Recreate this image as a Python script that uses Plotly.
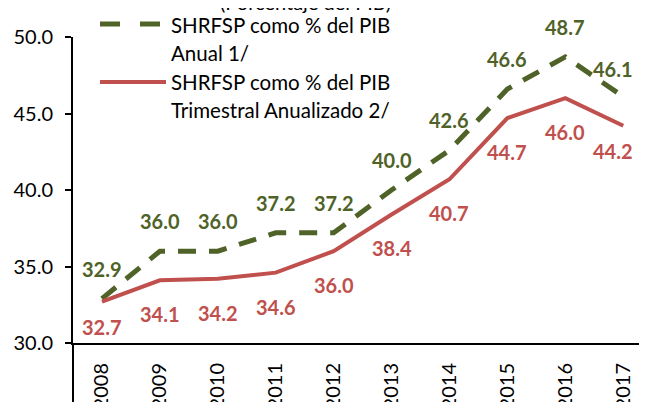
import plotly.graph_objects as go

# Data
years = ["2008", "2009", "2010", "2011", "2012", "2013", "2014", "2015", "2016", "2017"]
anual = [32.9, 36.0, 36.0, 37.2, 37.2, 40.0, 42.6, 46.6, 48.7, 46.1]
trimestral = [32.7, 34.1, 34.2, 34.6, 36.0, 38.4, 40.7, 44.7, 46.0, 44.2]
y_ticks = [30, 35, 40, 45, 50]

GREEN = "#4F6228"
RED = "#C0504D"
FONT = "Lato"

fig = go.Figure()

fig.add_trace(go.Scatter(
    x=years, y=anual, mode="lines", name="SHRFSP como % del PIB Anual 1/",
    line=dict(color=GREEN, width=5, dash="18px,13px"),
    showlegend=False
))
fig.add_trace(go.Scatter(
    x=years, y=trimestral, mode="lines", name="SHRFSP como % del PIB Trimestral Anualizado 2/",
    line=dict(color=RED, width=4),
    showlegend=False
))

# data labels (x given as category index)
annotations = []
last = len(years) - 1
for i, v in enumerate(anual):
    annotations.append(dict(
        x=i, y=v, text=f"{v:.1f}", showarrow=False,
        yshift=30 if i < last else 28, xshift=-10 if i == last else 0,
        font=dict(family=FONT, size=20, color=GREEN, weight="bold")
    ))
for i, v in enumerate(trimestral):
    edge = i == 0 or i == last
    annotations.append(dict(
        x=i, y=v, text=f"{v:.1f}", showarrow=False,
        yshift=-25 if edge else -34, xshift=-10 if i == last else 0,
        font=dict(family=FONT, size=20, color=RED, weight="bold")
    ))

# the page body has an 8px margin, so the figure is laid out 8px lower/right
OFF = 8
L, T, W, H = 73 - OFF, 37 - OFF, 574, 306

def px(x):
    return (x - OFF - L) / W

def py(y):
    return (T + H - (y - OFF)) / H

# manual legend
legend_lines = [
    ("SHRFSP como % del PIB", 25), ("Anual 1/", 53),
    ("SHRFSP como % del PIB", 82), ("Trimestral Anualizado 2/", 110),
]
for txt, yy in legend_lines:
    annotations.append(dict(
        xref="paper", yref="paper", x=px(169), y=py(yy), text=txt,
        xanchor="left", yanchor="middle", showarrow=False,
        font=dict(family=FONT, size=20.5, color="black")
    ))

# cut-off title at the very top
annotations.append(dict(
    xref="paper", yref="paper", x=px(305), y=py(2), text="(Porcentaje del PIB)",
    xanchor="center", yanchor="middle", showarrow=False,
    font=dict(family=FONT, size=20, color="black")
))

shapes = [
    dict(type="line", xref="paper", yref="paper", x0=px(100), x1=px(164), y0=py(24), y1=py(24),
         line=dict(color=GREEN, width=5, dash="20px,20px")),
    dict(type="line", xref="paper", yref="paper", x0=px(100), x1=px(166), y0=py(82), y1=py(82),
         line=dict(color=RED, width=4)),
    # axis extension below the category axis
    dict(type="line", xref="paper", yref="paper", x0=0, x1=0, y0=0, y1=-0.3,
         line=dict(color="black", width=2)),
]

fig.update_layout(
    width=647, height=402,
    margin=dict(l=L, r=647 - L - W, t=T, b=402 - T - H),
    plot_bgcolor="white", paper_bgcolor="white",
    annotations=annotations, shapes=shapes,
    font=dict(family=FONT, size=20, color="black"),
)

fig.update_xaxes(
    type="category", range=[-0.5, 9.41], showline=True, linecolor="black", linewidth=2,
    showgrid=False, ticks="", tickangle=-90, ticklabelstandoff=10, automargin=False,
    tickfont=dict(family=FONT, size=20, color="black")
)
fig.update_yaxes(
    range=[30, 50], tickvals=y_ticks, ticktext=[f"{t:.1f}" for t in y_ticks],
    showline=True, linecolor="black", linewidth=2, showgrid=False, zeroline=False,
    ticks="outside", ticklen=6, tickwidth=2, tickcolor="black", ticklabelstandoff=8,
    automargin=False, tickfont=dict(family=FONT, size=20, color="black")
)

fig.write_html("out.html")
